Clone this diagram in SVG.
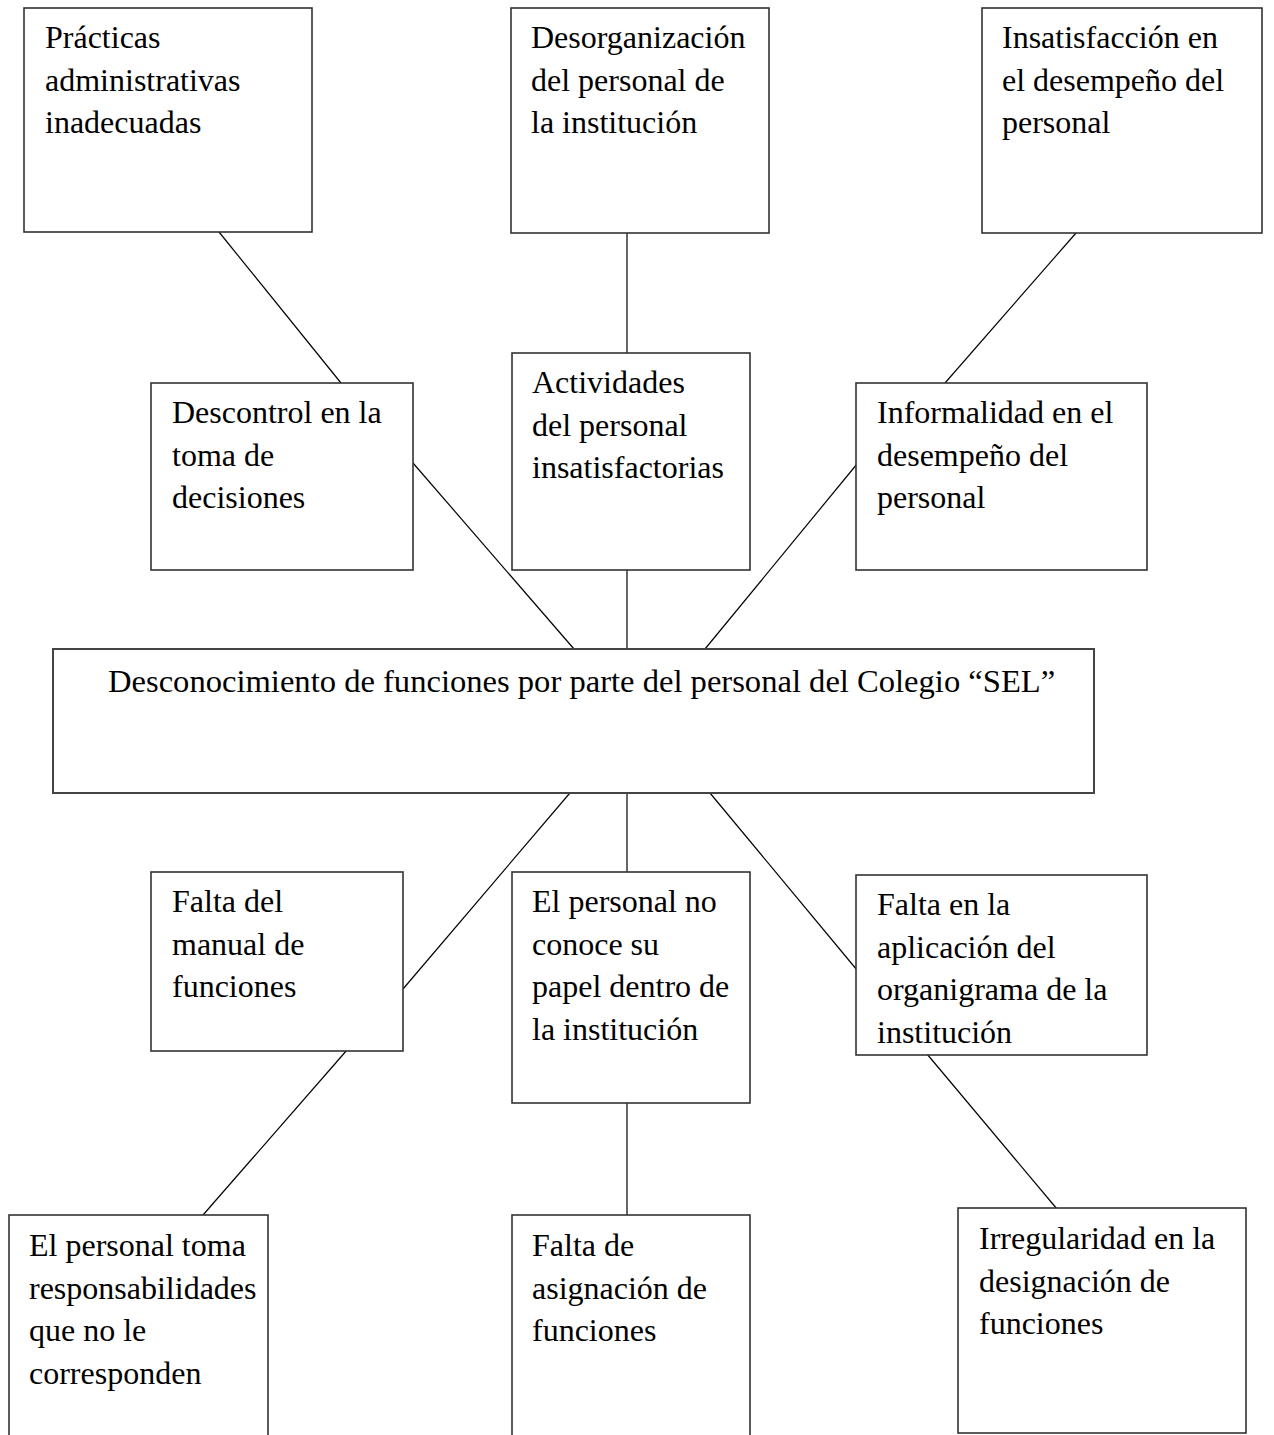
<svg xmlns="http://www.w3.org/2000/svg" width="1274" height="1435" viewBox="0 0 1274 1435">
<style>
.box{fill:#fff;stroke:#333;stroke-width:1.6}
.t{font-family:"Liberation Serif","Times New Roman",serif;font-size:32px;fill:#000}
.c line{stroke:#000;stroke-width:1.2}
</style>
<rect width="1274" height="1435" fill="#fff"/>
<g id="connectors" class="c">
<line x1="219" y1="232" x2="341" y2="383"/>
<line x1="627" y1="233" x2="627" y2="353"/>
<line x1="1076" y1="233" x2="945" y2="383"/>
<line x1="413" y1="463" x2="574" y2="649"/>
<line x1="627" y1="565" x2="627" y2="649"/>
<line x1="857" y1="464" x2="705" y2="649"/>
<line x1="575" y1="787" x2="403" y2="989"/>
<line x1="627" y1="793" x2="627" y2="872"/>
<line x1="705" y1="787" x2="857" y2="970"/>
<line x1="347" y1="1050" x2="203" y2="1215"/>
<line x1="627" y1="1103" x2="627" y2="1215"/>
<line x1="927" y1="1054" x2="1057" y2="1209"/>
</g>
<g id="n1"><rect class="box" x="24" y="8" width="288" height="224"/>
<text class="t" x="45" y="48">Prácticas</text><text class="t" x="45" y="90.5">administrativas</text><text class="t" x="45" y="133">inadecuadas</text></g>
<g id="n2"><rect class="box" x="511" y="8" width="258" height="225"/>
<text class="t" x="531" y="48">Desorganización</text><text class="t" x="531" y="90.5">del personal de</text><text class="t" x="531" y="133">la institución</text></g>
<g id="n3"><rect class="box" x="982" y="8" width="280" height="225"/>
<text class="t" x="1002" y="48">Insatisfacción en</text><text class="t" x="1002" y="90.5">el desempeño del</text><text class="t" x="1002" y="133">personal</text></g>
<g id="n4"><rect class="box" x="151" y="383" width="262" height="187"/>
<text class="t" x="172" y="423">Descontrol en la</text><text class="t" x="172" y="465.5">toma de</text><text class="t" x="172" y="508">decisiones</text></g>
<g id="n5"><rect class="box" x="512" y="353" width="238" height="217"/>
<text class="t" x="532" y="393">Actividades</text><text class="t" x="532" y="435.5">del personal</text><text class="t" x="532" y="478">insatisfactorias</text></g>
<g id="n6"><rect class="box" x="856" y="383" width="291" height="187"/>
<text class="t" x="877" y="423">Informalidad en el</text><text class="t" x="877" y="465.5">desempeño del</text><text class="t" x="877" y="508">personal</text></g>
<g id="center"><rect class="box" x="53" y="649" width="1041" height="144" style="stroke:#444;stroke-width:2"/>
<text class="t" x="108" y="692" style="font-size:32.6px">Desconocimiento de funciones por parte del personal del Colegio “SEL”</text></g>
<g id="n8"><rect class="box" x="151" y="872" width="252" height="179"/>
<text class="t" x="172" y="912">Falta del</text><text class="t" x="172" y="954.5">manual de</text><text class="t" x="172" y="997">funciones</text></g>
<g id="n9"><rect class="box" x="512" y="872" width="238" height="231"/>
<text class="t" x="532" y="912">El personal no</text><text class="t" x="532" y="954.5">conoce su</text><text class="t" x="532" y="997">papel dentro de</text><text class="t" x="532" y="1039.5">la institución</text></g>
<g id="n10"><rect class="box" x="856" y="875" width="291" height="180"/>
<text class="t" x="877" y="915">Falta en la</text><text class="t" x="877" y="957.5">aplicación del</text><text class="t" x="877" y="1000">organigrama de la</text><text class="t" x="877" y="1042.5">institución</text></g>
<g id="n11"><rect class="box" x="9" y="1215" width="259" height="240"/>
<text class="t" x="29" y="1256">El personal toma</text><text class="t" x="29" y="1298.5">responsabilidades</text><text class="t" x="29" y="1341">que no le</text><text class="t" x="29" y="1383.5">corresponden</text></g>
<g id="n12"><rect class="box" x="512" y="1215" width="238" height="240"/>
<text class="t" x="532" y="1256">Falta de</text><text class="t" x="532" y="1298.5">asignación de</text><text class="t" x="532" y="1341">funciones</text></g>
<g id="n13"><rect class="box" x="958" y="1208" width="288" height="225"/>
<text class="t" x="979" y="1249">Irregularidad en la</text><text class="t" x="979" y="1291.5">designación de</text><text class="t" x="979" y="1334">funciones</text></g>
</svg>
